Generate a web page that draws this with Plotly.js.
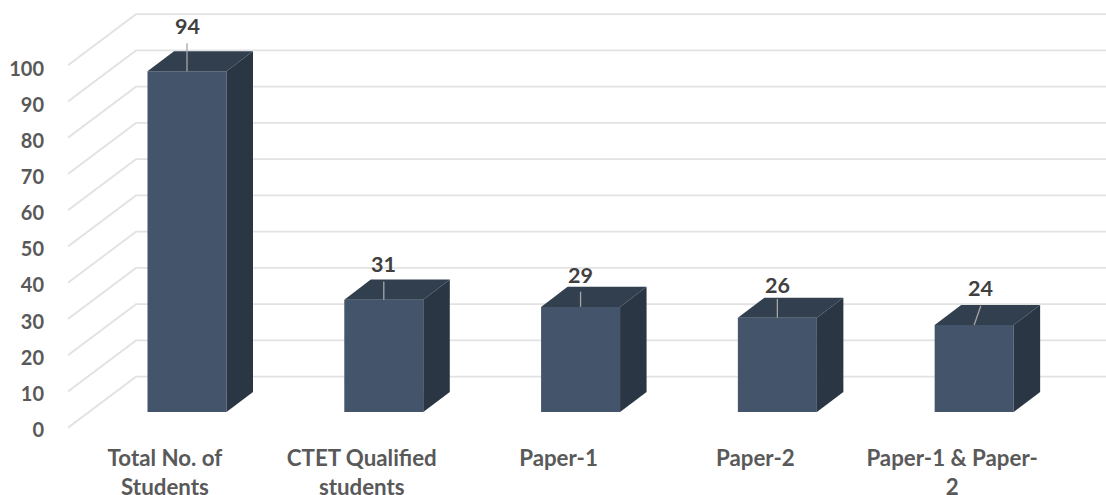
<!DOCTYPE html>
<html>
<head>
<meta charset="utf-8">
<script src="https://cdn.plot.ly/plotly-3.0.1.min.js"></script>
<style>html,body{margin:0;padding:0;background:#fff;overflow:hidden}#c{width:1106px;height:495px}</style>
</head>
<body>
<div id="c"></div>
<script>
var categories = ["Total No. of<br>Students", "CTET Qualified<br>students", "Paper-1", "Paper-2", "Paper-1 & Paper-<br>2"];
var values = [94, 31, 29, 26, 24];
var gridTicks = [0, 10, 20, 30, 40, 50, 60, 70, 80, 90, 100];

// appearance and projection (axis units)
var FONT = "Lato, 'Open Sans', sans-serif";
var colFront = "#44546A", colTop = "#323F4F", colSide = "#2A3644", colGrid = "#E2E2E2";
var barWidth = 0.4014, barDX = 0.1347, barDY = 5.52;   // bar width and its depth
var wallDX = 0.3455, wallDY = 14.07;                   // depth of the floor
var xLeft = -0.6047, xRight = 4.67;
var labelShift = -0.112;                               // category labels sit left of the bars
var leaderLen = [7.7, 5, 4.2, 5.2, 5.3];
var leaderLean = [0, 0, 0, 0, 0.034];
var labelGap = [12.4, 9.7, 8.8, 9.1, 10.2];
var labelLean = [0, 0, 0, 0, 0.03];

var idx = values.map(function (_, i) { return i; });
var traces = [];

// walls: floor diagonal, back wall line (main axis, lowest layer)
gridTicks.forEach(function (t) {
  traces.push({
    x: [xLeft, xLeft + wallDX, xRight],
    y: [t, t + wallDY, t + wallDY],
    yaxis: "y", mode: "lines", line: { color: colGrid, width: 1.8 },
    hoverinfo: "skip", showlegend: false, cliponaxis: false
  });
});

// front faces
traces.push({
  type: "bar", x: idx, y: values, width: barWidth, yaxis: "y2",
  marker: { color: colFront, line: { width: 0 } }, hoverinfo: "skip", showlegend: false
});

// top and side faces, leader lines
values.forEach(function (v, i) {
  var l = i - barWidth / 2, r = i + barWidth / 2;
  traces.push({
    x: [l, l + barDX, r + barDX, r, l], y: [v, v + barDY, v + barDY, v, v], yaxis: "y2",
    mode: "lines", fill: "toself", fillcolor: colTop, line: { width: 0, color: colTop },
    hoverinfo: "skip", showlegend: false
  });
  traces.push({
    x: [r, r + barDX, r + barDX, r, r], y: [0, barDY, v + barDY, v, 0], yaxis: "y2",
    mode: "lines", fill: "toself", fillcolor: colSide, line: { width: 0, color: colSide },
    hoverinfo: "skip", showlegend: false
  });
  traces.push({
    x: [i, i + leaderLean[i]], y: [v, v + leaderLen[i]], yaxis: "y2",
    mode: "lines", line: { color: "#A6A6A6", width: 1.3 },
    hoverinfo: "skip", showlegend: false
  });
});

// keeps the labelled value axis alive; draws nothing
traces.push({
  x: gridTicks.map(function () { return xLeft; }), y: gridTicks, yaxis: "y3",
  mode: "markers", marker: { size: 1, opacity: 0 }, hoverinfo: "skip", showlegend: false
});

var annotations = values.map(function (v, i) {
  return {
    x: i + labelLean[i], y: v + labelGap[i], xref: "x", yref: "y2", text: String(v),
    showarrow: false, xanchor: "center", yanchor: "middle",
    font: { family: FONT, size: 21.5, color: "#404040", weight: 700 }
  };
});

var layout = {
  width: 1106, height: 495,
  margin: { l: 68, r: 0, t: 0, b: 58, pad: 0 },
  paper_bgcolor: "#fff", plot_bgcolor: "rgba(0,0,0,0)",
  showlegend: false, barmode: "overlay", hovermode: false,
  xaxis: {
    range: [xLeft, xRight], tickmode: "array",
    tickvals: idx.map(function (i) { return i + labelShift; }),
    ticktext: categories,
    tickangle: 0, showgrid: false, zeroline: false, showline: false,
    ticks: "outside", ticklen: 1, tickcolor: "rgba(0,0,0,0)",
    tickfont: { family: FONT, size: 22.3, color: "#595959", weight: 700 }
  },
  yaxis: {
    range: [-2.566, 117.99],
    showticklabels: false, showgrid: false, zeroline: false, showline: false, ticks: ""
  },
  yaxis2: {
    range: [-6.897, 113.66], overlaying: "y", side: "left",
    showticklabels: false, showgrid: false, zeroline: false, showline: false, ticks: ""
  },
  yaxis3: {
    range: [-2.083, 119.3], overlaying: "y", side: "left",
    tickmode: "array", tickvals: gridTicks,
    showgrid: false, zeroline: false, showline: false,
    ticks: "outside", ticklen: 19, tickcolor: "rgba(0,0,0,0)",
    tickfont: { family: FONT, size: 20, color: "#595959", weight: 700 }
  },
  annotations: annotations
};

Plotly.newPlot("c", traces, layout, { displayModeBar: false, staticPlot: true });
</script>
</body>
</html>
